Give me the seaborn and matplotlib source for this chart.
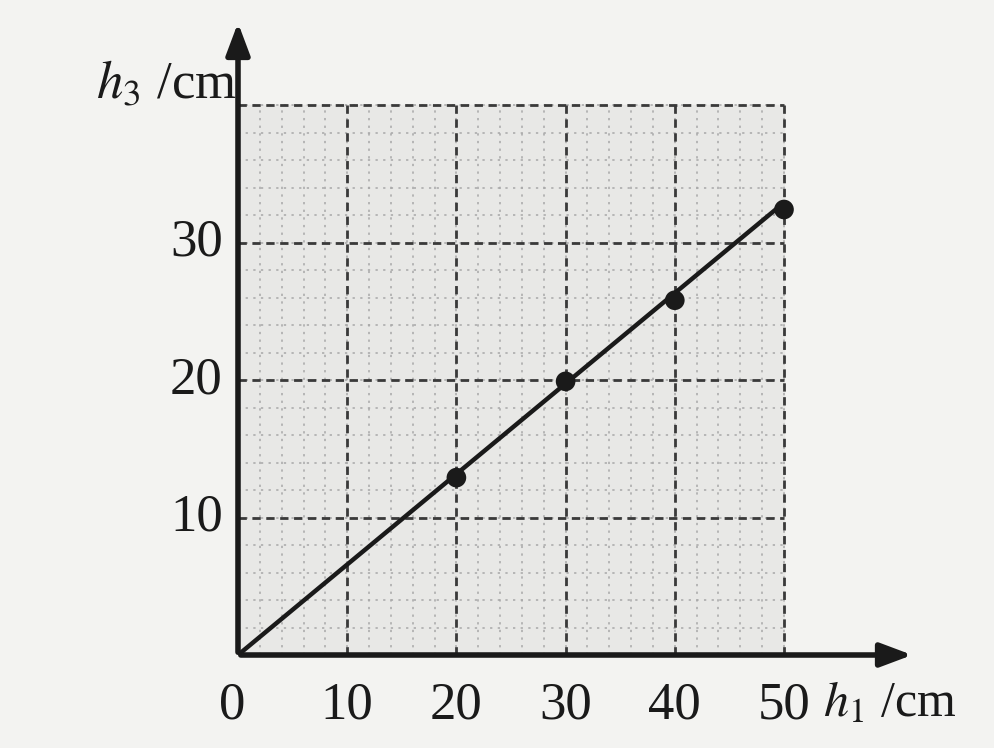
import numpy as np
import matplotlib.pyplot as plt
import seaborn as sns

# measured points (h1 in cm, h3 in cm)
h1_pts = [20, 30, 40, 50]
h3_pts = [12.9, 19.9, 25.8, 32.4]
# fitted straight line through the origin
fit_h1 = [0, 50]
fit_h3 = [0, 32.9]

x_ticks = [0, 10, 20, 30, 40, 50]
y_ticks = [10, 20, 30]
x_minor = np.arange(0, 51, 2)
y_minor = np.arange(0, 41, 2)
x_major = [10, 20, 30, 40, 50]
y_major = [10, 20, 30, 40]

sns.set_theme(style="white")
plt.rcParams["font.family"] = ["Liberation Serif", "DejaVu Serif"]
plt.rcParams["mathtext.fontset"] = "stix"

fig = plt.figure(figsize=(9.94, 7.48), dpi=100, facecolor="#f3f3f1")
# origin sits at pixel (238, 655); axes run to the arrow heads
ax = fig.add_axes([238 / 994, 93 / 748, 677 / 994, 635 / 748])
ax.set_xlim(0, 677 / 10.92)
ax.set_ylim(0, 635 / 13.75)
ax.set_facecolor("none")
for s in ax.spines.values():
    s.set_visible(False)
ax.set_xticks([])
ax.set_yticks([])

# light stippled paper inside the grid
ax.fill_between([0, 50], 0, 40, color="#e8e8e6", zorder=0)

# fine grid
ax.vlines(x_minor, 0, 40, colors="#a8a8a8", linestyles=(0, (1.5, 3.5)), lw=1.1, zorder=1)
ax.hlines(y_minor, 0, 50, colors="#a8a8a8", linestyles=(0, (1.5, 3.5)), lw=1.1, zorder=1)
# major dashed grid
ax.vlines(x_major, 0, 40, colors="#3a3a3a", linestyles=(0, (3, 2)), lw=2.0, zorder=2)
ax.hlines(y_major, 0, 50, colors="#3a3a3a", linestyles=(0, (3, 2)), lw=2.0, zorder=2)

# axes with arrows
arrow = dict(arrowstyle="-|>,head_length=1.6,head_width=0.6", color="#1a1a1a", lw=4)
ax.annotate("", xy=(677 / 10.92, 0), xytext=(0, 0), arrowprops=arrow, annotation_clip=False)
ax.annotate("", xy=(0, 635 / 13.75), xytext=(0, 0), arrowprops=arrow, annotation_clip=False)

sns.lineplot(x=fit_h1, y=fit_h3, ax=ax, color="#1a1a1a", lw=3.2, zorder=4)
sns.scatterplot(x=h1_pts, y=h3_pts, ax=ax, color="#1a1a1a", s=200, edgecolor="none", zorder=5)

# tick labels
for v in x_ticks:
    ax.text(v - (0.5 if v == 0 else 0), -1.9, str(v), ha="center", va="top",
            fontsize=38, color="#1a1a1a", clip_on=False)
for v in y_ticks:
    ax.text(-1.4, v, str(v), ha="right", va="center",
            fontsize=38, color="#1a1a1a", clip_on=False)

ax.text(53.6, -1.9, r"$h_1$ /cm", ha="left", va="top", fontsize=36,
        color="#1a1a1a", clip_on=False)
ax.text(-0.1, 41.5, r"$h_3$ /cm", ha="right", va="center", fontsize=38,
        color="#1a1a1a", clip_on=False)

fig.savefig("out.png", dpi=100, facecolor=fig.get_facecolor())
